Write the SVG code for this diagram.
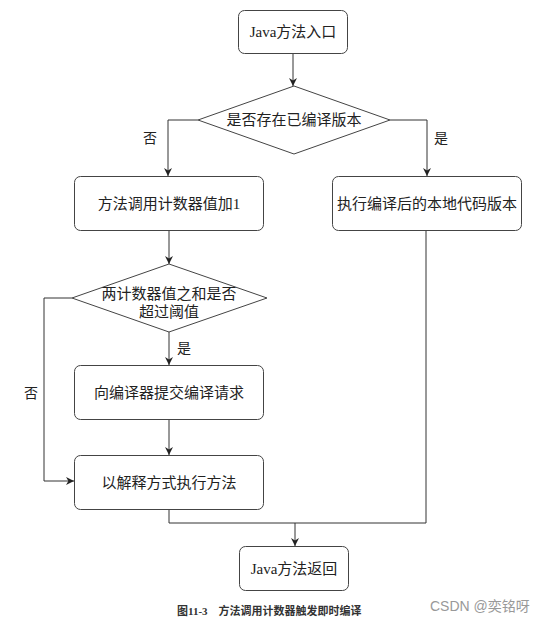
<svg xmlns="http://www.w3.org/2000/svg" width="544" height="622" viewBox="0 0 544 622">
<style>
.box{fill:#fff;stroke:#444;stroke-width:1}
.t{font-family:"Liberation Serif","Noto Sans CJK SC",serif;font-size:15px;fill:#222;text-anchor:middle}
.lbl{font-family:"Liberation Serif","Noto Sans CJK SC",serif;font-size:14px;fill:#222;text-anchor:middle}
.c{fill:none;stroke:#333;stroke-width:1}
</style>
<defs>
<marker id="ah" viewBox="0 0 10 10" refX="10" refY="5" markerWidth="8" markerHeight="8" markerUnits="userSpaceOnUse" orient="auto">
<path d="M0,0 L10,5 L0,10 L3,5 Z" fill="#222"/>
</marker>
</defs>
<rect width="544" height="622" fill="#fff"/>
<g id="connectors">
<path class="c" d="M293,53 V86" marker-end="url(#ah)"/>
<path class="c" d="M198,120 H168 V176" marker-end="url(#ah)"/>
<path class="c" d="M390,120 H427 V176" marker-end="url(#ah)"/>
<path class="c" d="M169,231 V264" marker-end="url(#ah)"/>
<path class="c" d="M169,332 V365" marker-end="url(#ah)"/>
<path class="c" d="M169,419 V455" marker-end="url(#ah)"/>
<path class="c" d="M72,298 H44 V481 H74" marker-end="url(#ah)"/>
<path class="c" d="M169,509 V523 H426 V231"/>
<path class="c" d="M295,523 V546" marker-end="url(#ah)"/>
<text class="lbl" x="150" y="143">否</text>
<text class="lbl" x="441" y="143">是</text>
<text class="lbl" x="184" y="353">是</text>
<text class="lbl" x="31" y="398">否</text>
</g>
<g id="start">
<rect class="box" x="238.5" y="10.5" width="109" height="43" rx="6"/>
<text class="t" x="293" y="37">Java方法入口</text>
</g>
<g id="check_compiled">
<polygon class="box" points="294,86 390,120 294,154 198,120"/>
<text class="t" x="294" y="125">是否存在已编译版本</text>
</g>
<g id="counter_inc">
<rect class="box" x="74.5" y="176.5" width="189" height="54" rx="6"/>
<text class="t" x="169" y="209">方法调用计数器值加1</text>
</g>
<g id="exec_native">
<rect class="box" x="332.5" y="176.5" width="189" height="54" rx="6"/>
<text class="t" x="427" y="209">执行编译后的本地代码版本</text>
</g>
<g id="threshold">
<polygon class="box" points="169,264 267,298 169,332 72,298"/>
<text class="t" x="169" y="299">两计数器值之和是否</text>
<text class="t" x="169" y="317">超过阈值</text>
</g>
<g id="submit">
<rect class="box" x="74.5" y="365.5" width="189" height="54" rx="6"/>
<text class="t" x="169" y="398">向编译器提交编译请求</text>
</g>
<g id="interpret">
<rect class="box" x="74.5" y="455.5" width="189" height="54" rx="6"/>
<text class="t" x="169" y="488">以解释方式执行方法</text>
</g>
<g id="end">
<rect class="box" x="239.5" y="546.5" width="109" height="44" rx="6"/>
<text class="t" x="294" y="574">Java方法返回</text>
</g>
<text x="177" y="615" font-family="'Liberation Serif','Noto Sans CJK SC',serif" font-size="11" font-weight="bold" fill="#333" xml:space="preserve">图11-3    方法调用计数器触发即时编译</text>
<text x="430" y="611" font-family="'Liberation Sans','Noto Sans CJK SC',sans-serif" font-size="14" fill="#999">CSDN @奕铭呀</text>
</svg>
